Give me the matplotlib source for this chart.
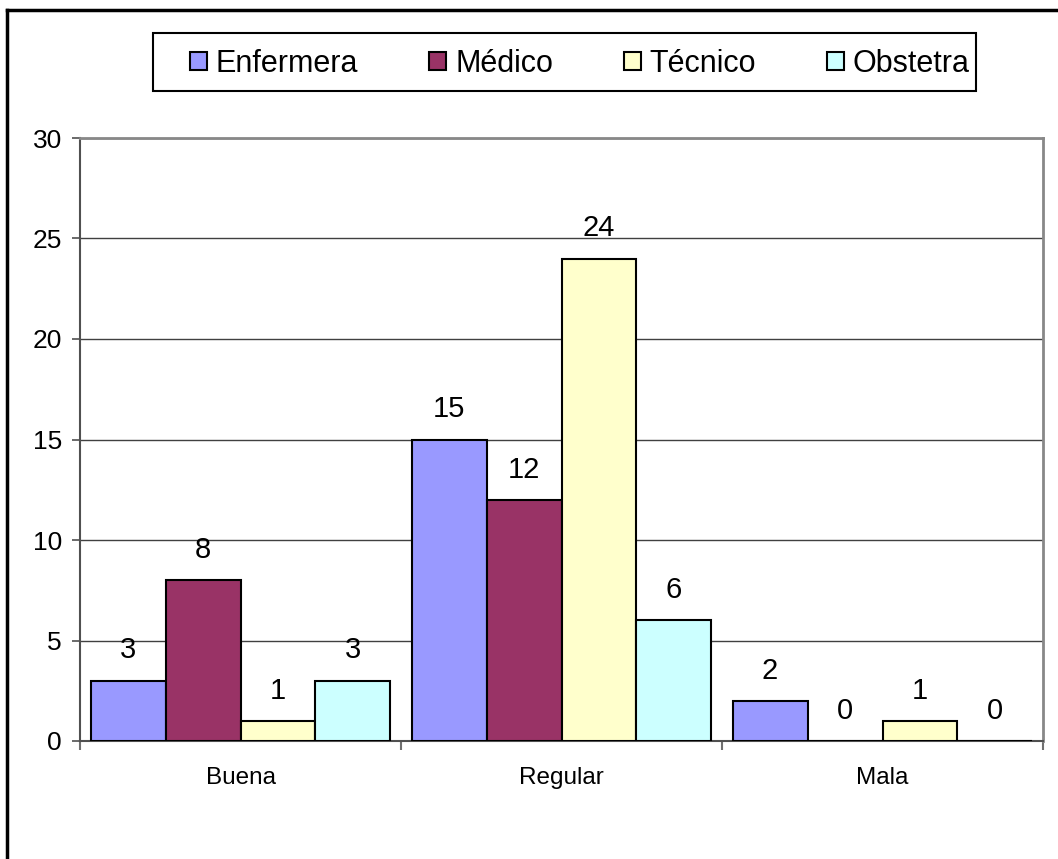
import numpy as np
import matplotlib.pyplot as plt
from matplotlib.patches import Patch, Rectangle
from matplotlib.lines import Line2D

plt.rcParams['font.family'] = ['Liberation Sans', 'DejaVu Sans']

categorias = ['Buena', 'Regular', 'Mala']
series = ['Enfermera', 'Médico', 'Técnico', 'Obstetra']
enfermera = [3, 15, 2]
medico = [8, 12, 0]
tecnico = [1, 24, 1]
obstetra = [3, 6, 0]
colores = ['#9999FF', '#993366', '#FFFFCC', '#CCFFFF']

valores = [enfermera, medico, tecnico, obstetra]

fig = plt.figure(figsize=(10.58, 8.59), dpi=100)
ax = fig.add_axes([80/1058, 1 - 741/859, (1043 - 80)/1058, (741 - 138)/859])

x = np.arange(len(categorias))
ancho = 0.2336
inicio = -2 * ancho

for j, (nombre, vals, col) in enumerate(zip(series, valores, colores)):
    pos = x + inicio + j * ancho
    ax.bar(pos, vals, width=ancho, align='edge', color=col,
           edgecolor='black', linewidth=1.5, label=nombre, zorder=3)
    for xb, v in zip(pos, vals):
        ax.annotate(str(v), (xb + ancho / 2, v), xytext=(0, 16),
                    textcoords='offset points', ha='center', va='baseline',
                    fontsize=21)

ax.set_xlim(-0.5, 2.5)
ax.set_ylim(0, 30)
ax.set_yticks(range(0, 31, 5))
ax.yaxis.grid(True, color='#404040', linewidth=1, zorder=0)
ax.set_axisbelow(True)

ax.set_xticks(x)
ax.set_xticklabels(categorias, fontsize=17.5)
ax.set_xticks([-0.5, 0.5, 1.5, 2.5], minor=True)
ax.tick_params(axis='x', which='major', length=0, pad=19)
ax.tick_params(axis='x', which='minor', length=6.5, width=1.5, color='#707070')
ax.tick_params(axis='y', length=6, width=1.2, color='#505050', pad=7,
               labelsize=19)

for lado in ['left', 'bottom']:
    ax.spines[lado].set_color('#505050')
    ax.spines[lado].set_linewidth(1.5)
for lado in ['top', 'right']:
    ax.spines[lado].set_color('#888888')
    ax.spines[lado].set_linewidth(2)

# caja de la leyenda y entradas en una sola fila
fig.add_artist(Rectangle((153/1058, 1 - 91/859), (976 - 153)/1058, 58/859,
                         facecolor='white', edgecolor='black', linewidth=1.5,
                         transform=fig.transFigure))
manejadores = [Patch(facecolor=c, edgecolor='black', linewidth=1.5) for c in colores]
leg = fig.legend(manejadores, series, loc='center', ncol=4,
                 bbox_to_anchor=(190/1058, 1 - 97/859, (970 - 190)/1058, 66/859),
                 mode='expand', fontsize=22, frameon=False,
                 handlelength=0.55, handleheight=0.55, handletextpad=0.3,
                 borderaxespad=0, borderpad=0)

# marco exterior (solo borde superior e izquierdo)
fig.add_artist(Line2D([7/1058, 1], [1 - 10/859, 1 - 10/859],
                      color='black', linewidth=2.5, transform=fig.transFigure))
fig.add_artist(Line2D([7/1058, 7/1058], [0, 1 - 10/859],
                      color='black', linewidth=2.5, transform=fig.transFigure))

fig.savefig('out.png', dpi=100)
